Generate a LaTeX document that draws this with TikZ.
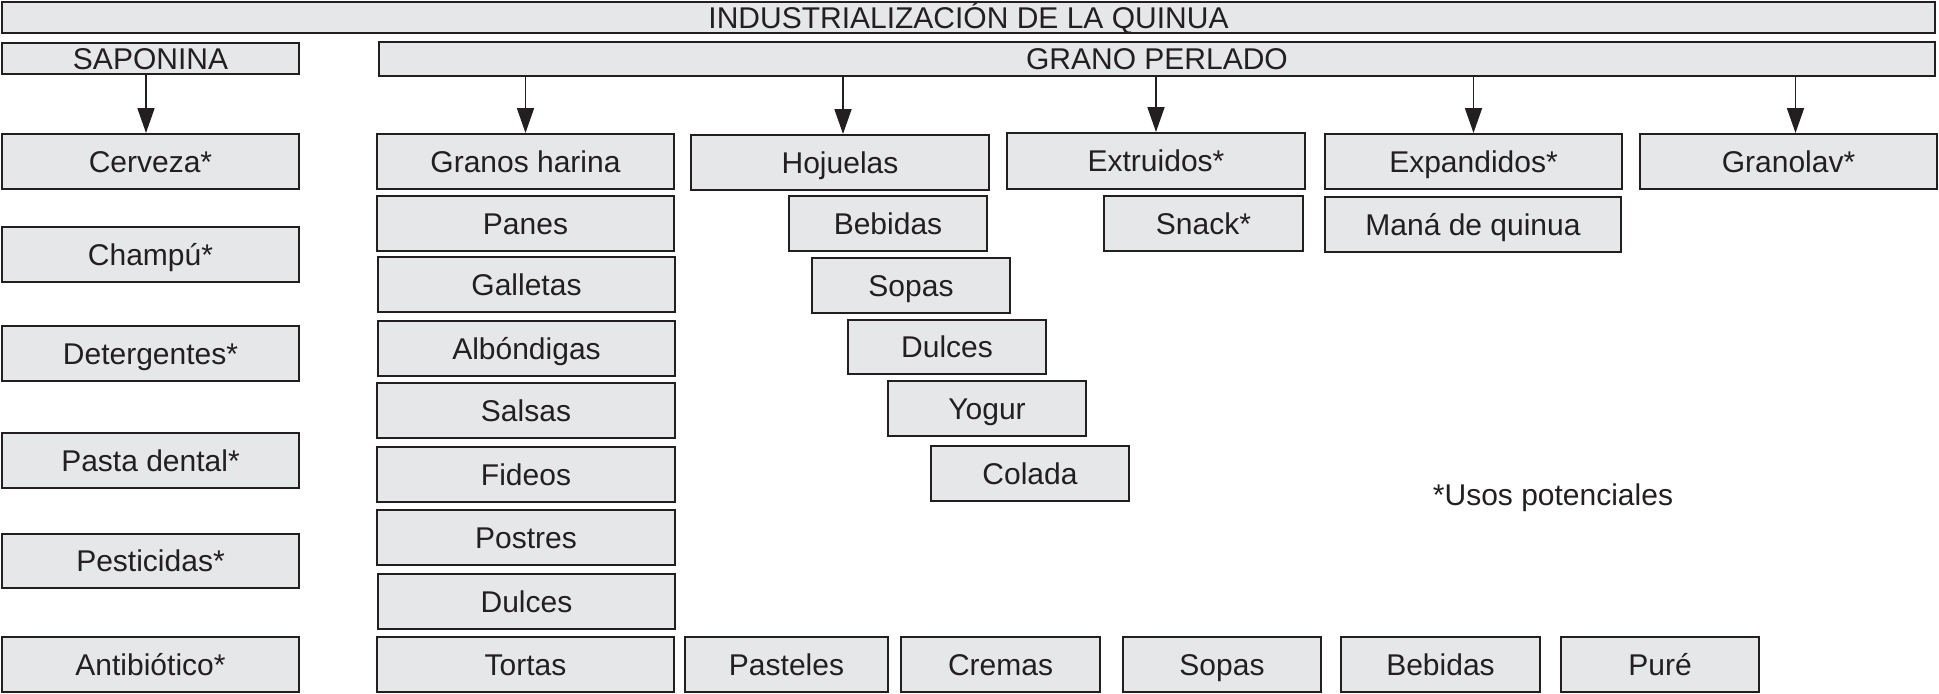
\documentclass[tikz,border=0pt]{standalone}
\usepackage{fontspec}
\setmainfont{Liberation Sans}
\usetikzlibrary{arrows.meta}
\definecolor{boxfill}{HTML}{E6E7E8}
\definecolor{boxline}{HTML}{231F20}
\newcommand{\mybox}[6]{\node[box, minimum width={(#4-#2)*0.5pt}, minimum height={(#5-#3)*0.5pt}] (#1) at ({(#2+#4)/2},{(#3+#5)/2}) {#6};}
\tikzset{
  box/.style={draw=boxline, fill=boxfill, line width=1pt, rectangle, inner sep=0pt,
    font=\fontsize{15pt}{18pt}\selectfont, text=boxline, text height=10.75pt, text depth=0pt},
  arr/.style={draw=boxline, line width=0.9pt, -{Triangle[length=12.5pt,width=8.5pt]}},
  note/.style={font=\fontsize{15pt}{18pt}\selectfont, text=boxline, inner sep=0pt}
}
\begin{document}
\begin{tikzpicture}[x=0.5pt, y=-0.5pt]
\useasboundingbox (0,0) rectangle (1939,693);
% top
\mybox{title}{2}{2}{1935}{33}{INDUSTRIALIZACIÓN DE LA QUINUA}
\mybox{sap}{2}{43}{299}{74}{SAPONINA}
\mybox{gp}{379}{42}{1935}{76}{GRANO PERLADO}
% saponina column
\mybox{cerveza}{2}{134}{299}{189}{Cerveza*}
\mybox{champu}{2}{227}{299}{282}{Champú*}
\mybox{deterg}{2}{326}{299}{381}{Detergentes*}
\mybox{pasta}{2}{433}{299}{488}{Pasta dental*}
\mybox{pestic}{2}{534}{299}{588}{Pesticidas*}
\mybox{antib}{2}{637}{299}{692}{Antibiótico*}
% granos harina column
\mybox{granos}{377}{134}{674}{189}{Granos harina}
\mybox{panes}{377}{196}{674}{251}{Panes}
\mybox{galletas}{378}{257}{675}{312}{Galletas}
\mybox{albond}{378}{321}{675}{376}{Albóndigas}
\mybox{salsas}{377}{383}{675}{438}{Salsas}
\mybox{fideos}{377}{447}{675}{502}{Fideos}
\mybox{postres}{377}{510}{675}{565}{Postres}
\mybox{dulcesa}{378}{574}{675}{629}{Dulces}
\mybox{tortas}{377}{637}{674}{692}{Tortas}
% hojuelas column
\mybox{hojuelas}{691}{135}{989}{190}{Hojuelas}
\mybox{bebidasa}{789}{196}{987}{251}{Bebidas}
\mybox{sopasa}{812}{258}{1010}{313}{Sopas}
\mybox{dulcesb}{848}{320}{1046}{374}{Dulces}
\mybox{yogur}{888}{381}{1086}{436}{Yogur}
\mybox{colada}{931}{446}{1129}{501}{Colada}
% extruidos
\mybox{extruidos}{1007}{133}{1305}{189}{Extruidos*}
\mybox{snack}{1104}{196}{1303}{251}{Snack*}
% expandidos
\mybox{expand}{1325}{134}{1622}{189}{Expandidos*}
\mybox{mana}{1325}{197}{1621}{252}{Maná de quinua}
% granolav
\mybox{granolav}{1640}{134}{1937}{189}{Granolav*}
% bottom row
\mybox{pasteles}{685}{637}{888}{692}{Pasteles}
\mybox{cremas}{901}{637}{1100}{692}{Cremas}
\mybox{sopasb}{1123}{637}{1321}{692}{Sopas}
\mybox{bebidasb}{1341}{637}{1540}{692}{Bebidas}
\mybox{pure}{1561}{637}{1759}{692}{Puré}
% note
\node[note, anchor=base] (nota) at (1553,505) {*Usos potenciales};
% arrows
\coordinate (t0) at ([xshift=-2.25pt]cerveza.north);
\coordinate (t2) at ([xshift=1.5pt]hojuelas.north);
\coordinate (t5) at ([xshift=3.5pt]granolav.north);
\draw[arr] (sap.south -| t0) -- (t0);
\draw[arr] (gp.south -| granos.north) -- (granos.north);
\draw[arr] (gp.south -| t2) -- (t2);
\draw[arr] (gp.south -| extruidos.north) -- (extruidos.north);
\draw[arr] (gp.south -| expand.north) -- (expand.north);
\draw[arr] (gp.south -| t5) -- (t5);
\end{tikzpicture}
\end{document}
